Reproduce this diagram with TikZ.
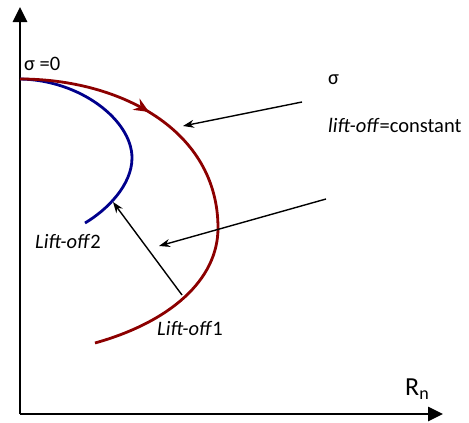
\documentclass[tikz,border=0pt]{standalone}
\usepackage{fontspec}
\setmainfont{Carlito}
\usetikzlibrary{arrows.meta,decorations.markings}
\definecolor{curvered}{RGB}{140,0,0}
\definecolor{curveblue}{RGB}{0,0,140}
\tikzset{
  axisline/.style={line width=2.6pt,-{Triangle[length=15pt,width=14pt]}},
  pointer/.style={line width=1.4pt,-{Stealth[length=11pt,width=8pt]}},
  curve/.style={line width=2.8pt},
  lbl/.style={inner sep=0pt,font=\fontsize{20.5}{24}\selectfont},
}
\begin{document}
\begin{tikzpicture}[x=1pt,y=-1pt]
\useasboundingbox (0,0) rectangle (469,423);
% axes
\coordinate (O) at (20,414);
\coordinate (ytop) at (20,7);
\coordinate (xend) at (443,414);
\draw[axisline] (O) -- (ytop);
\draw[axisline] (O) -- (xend);
% curves
\draw[curve,curveblue] (20,79) .. controls (80,80) and (132,120) .. (132,158)
  .. controls (132,185) and (107,210) .. (85,223);
\draw[curve,curvered,postaction={decorate},decoration={markings,
   mark=at position 0.295 with {\arrow{Stealth[length=15pt,width=13pt,inset=5pt]}}}]
  (20,79) .. controls (120,79) and (218,130) .. (218,228)
  .. controls (218,280) and (170,322) .. (95,343);
% pointers
\coordinate (p1s) at (302,102);
\coordinate (p1e) at (183,126);
\coordinate (p2s) at (326,199);
\coordinate (p2e) at (159,246);
\coordinate (p3s) at (182,295);
\coordinate (p3e) at (113,202);
\draw[pointer] (p1s) -- (p1e);
\draw[pointer] (p2s) -- (p2e);
\draw[pointer] (p3s) -- (p3e);
% labels
\node[lbl,anchor=west] (s0) at (24,64) {σ =0};
\node[lbl,anchor=west] (sig) at (328,80) {σ};
\node[lbl,anchor=west] (lc) at (328,125) {\textit{lift-off}=constant};
\node[lbl,anchor=west] (l2) at (35,241) {\textit{Lift-off}2};
\node[lbl,anchor=west] (l1) at (157,328) {\textit{Lift-off}1};
\node[inner sep=0pt,anchor=base west,font=\fontsize{26}{30}\selectfont] (rn) at (405,395) {R\raisebox{-4pt}{\fontsize{18}{20}\selectfont n}};
\end{tikzpicture}
\end{document}
